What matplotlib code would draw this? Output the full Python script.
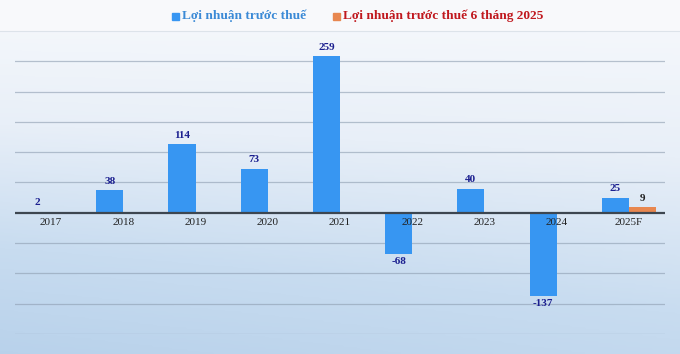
import numpy as np
import matplotlib
matplotlib.use("Agg")
import matplotlib.pyplot as plt
from matplotlib.colors import LinearSegmentedColormap

categories = ["2017", "2018", "2019", "2020", "2021", "2022", "2023", "2024", "2025F"]
profit = [2, 38, 114, 73, 259, -68, 40, -137, 25]
profit_6m_idx = [8]
profit_6m = [9]
series_names = ["Lợi nhuận trước thuế", "Lợi nhuận trước thuế 6 tháng 2025"]

W, H = 680, 354
fig = plt.figure(figsize=(W / 100, H / 100), dpi=100)

# background gradient
bg = fig.add_axes([0, 0, 1, 1])
yy, xx = np.mgrid[0:1:200j, 0:1:200j]
t = np.clip(0.75 * yy + 0.2 * (1 - xx) * yy, 0, 1)
cmap = LinearSegmentedColormap.from_list("bg", ["#f7f9fc", "#e8eff8", "#c8dcf0", "#b6d0ea"])
bg.imshow(t, cmap=cmap, aspect="auto", extent=[0, 1, 0, 1], origin="upper", vmin=0, vmax=1)
bg.axis("off")
# legend band
bg.fill_between([0, 1], 1 - 30 / H, 1, color="#f8f9fb", zorder=2)
bg.plot([0, 1], [1 - 30.5 / H, 1 - 30.5 / H], color="#dde3ea", lw=0.8, zorder=3)
bg.set_xlim(0, 1)
bg.set_ylim(0, 1)

serif = ["Liberation Serif", "DejaVu Serif"]
blue = "#3796f2"
orange = "#e8874f"

# plot area: x 15..665, y 31 (300) .. 334 (-200)
left, right = 15 / W, 665 / W
top_px, bot_px = 31, 334
ax = fig.add_axes([left, 1 - bot_px / H, right - left, (bot_px - top_px) / H])
ax.patch.set_alpha(0)
ax.set_ylim(-200, 300)
ax.set_xlim(-0.5, len(categories) - 0.5)
x = np.arange(len(categories))
bw = 0.375
ax.bar(x - bw / 2, profit, width=bw, color=blue, zorder=3)
ax.bar(np.array(profit_6m_idx) + bw / 2, profit_6m, width=bw, color=orange, zorder=3)

for yv in range(-200, 301, 50):
    if yv not in (0, 300):
        ax.axhline(yv, color="#8d9db0", lw=0.9, alpha=0.6, zorder=1)
ax.axhline(0, color="#3d4650", lw=1.6, zorder=4)

for xi, v in zip(x, profit):
    if v >= 0:
        ax.annotate(str(v), (xi - bw / 2, v), xytext=(0, 3), textcoords="offset points",
                    ha="center", va="bottom", fontsize=8, fontweight="bold",
                    color="#1b1f8f", family=serif, zorder=5)
    else:
        ax.annotate(str(v), (xi - bw / 2, v), xytext=(0, -2), textcoords="offset points",
                    ha="center", va="top", fontsize=8, fontweight="bold",
                    color="#1b1f8f", family=serif, zorder=5)
for xi, v in zip(profit_6m_idx, profit_6m):
    ax.annotate(str(v), (xi + bw / 2, v), xytext=(0, 3), textcoords="offset points",
                ha="center", va="bottom", fontsize=8, fontweight="bold",
                color="#222222", family=serif, zorder=5)

for xi, c in zip(x, categories):
    ax.annotate(c, (xi, 0), xytext=(0, -4), textcoords="offset points",
                ha="center", va="top", fontsize=8, color="#222222",
                family=serif, zorder=6)

ax.set_xticks([])
ax.set_yticks([])
for s in ax.spines.values():
    s.set_visible(False)

# legend
ly = 1 - 16 / H
fig.patches.append(plt.Rectangle((172 / W, ly - 3.5 / H), 7 / W, 7 / H,
                                 transform=fig.transFigure, color=blue))
fig.text(182 / W, ly, series_names[0], ha="left", va="center", fontsize=9.6,
         fontweight="bold", color="#3b8ad6", family=serif)
fig.patches.append(plt.Rectangle((333 / W, ly - 3.5 / H), 7 / W, 7 / H,
                                 transform=fig.transFigure, color=orange))
fig.text(343 / W, ly, series_names[1], ha="left", va="center", fontsize=9.6,
         fontweight="bold", color="#c0181e", family=serif)

fig.savefig("out.png", dpi=100)
